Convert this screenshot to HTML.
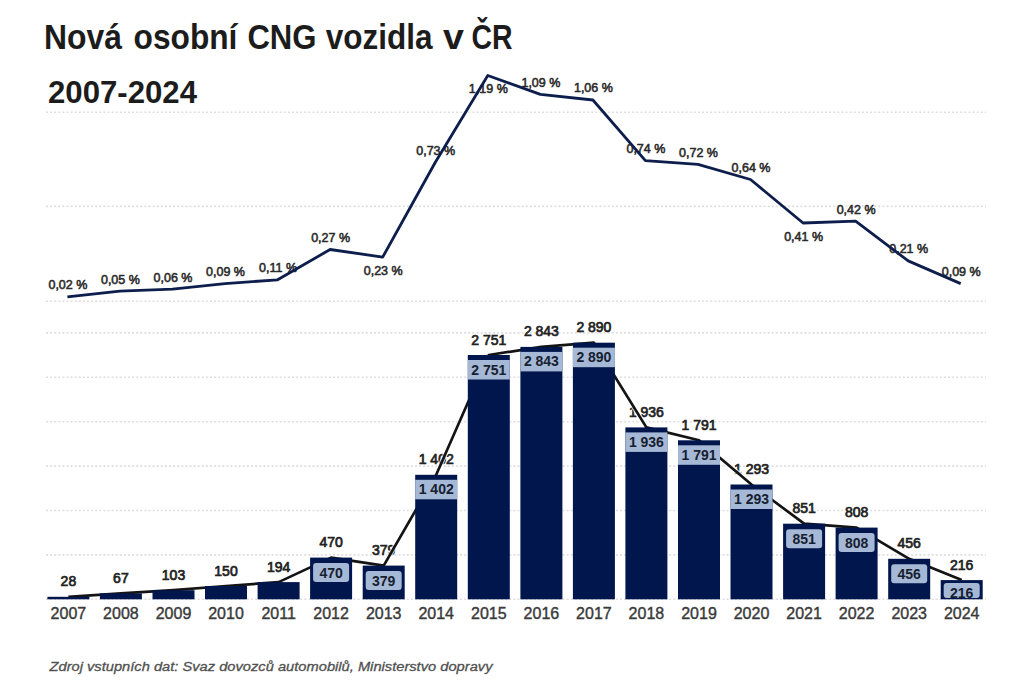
<!DOCTYPE html>
<html><head><meta charset="utf-8"><style>
html,body{margin:0;padding:0;background:#fff;width:1024px;height:683px;overflow:hidden}
svg{display:block}
text{font-family:"Liberation Sans",sans-serif}
.inl{font-size:14px;font-weight:bold;fill:#162030}
.val{font-size:14px;font-weight:normal;fill:#222222;stroke:#222222;stroke-width:0.7px}
.ttl{font-size:35px;font-weight:bold;fill:#1c1c1c}
.yr{font-size:16px;fill:#3a3a3a;stroke:#3a3a3a;stroke-width:0.4px}
.pct{font-size:12.5px;font-weight:normal;fill:#2a2a2a;stroke:#2a2a2a;stroke-width:0.55px}
</style></head><body>
<svg width="1024" height="683" viewBox="0 0 1024 683">
<rect width="1024" height="683" fill="#ffffff"/>
<line x1="46" y1="301.2" x2="986" y2="301.2" stroke="#dedede" stroke-width="1.6" stroke-dasharray="2 2.1"/>
<line x1="46" y1="206.4" x2="986" y2="206.4" stroke="#dedede" stroke-width="1.6" stroke-dasharray="2 2.1"/>
<line x1="46" y1="112.2" x2="986" y2="112.2" stroke="#dedede" stroke-width="1.6" stroke-dasharray="2 2.1"/>
<line x1="46" y1="599.3" x2="986" y2="599.3" stroke="#dedede" stroke-width="1.6" stroke-dasharray="2 2.1"/>
<line x1="46" y1="554.9" x2="986" y2="554.9" stroke="#dedede" stroke-width="1.6" stroke-dasharray="2 2.1"/>
<line x1="46" y1="510.5" x2="986" y2="510.5" stroke="#dedede" stroke-width="1.6" stroke-dasharray="2 2.1"/>
<line x1="46" y1="466.1" x2="986" y2="466.1" stroke="#dedede" stroke-width="1.6" stroke-dasharray="2 2.1"/>
<line x1="46" y1="421.7" x2="986" y2="421.7" stroke="#dedede" stroke-width="1.6" stroke-dasharray="2 2.1"/>
<line x1="46" y1="377.3" x2="986" y2="377.3" stroke="#dedede" stroke-width="1.6" stroke-dasharray="2 2.1"/>
<line x1="46" y1="332.9" x2="986" y2="332.9" stroke="#dedede" stroke-width="1.6" stroke-dasharray="2 2.1"/>
<text x="43.9" y="48.7" class="ttl" textLength="78.0" lengthAdjust="spacingAndGlyphs">Nová</text><text x="133.6" y="48.7" class="ttl" textLength="103.8" lengthAdjust="spacingAndGlyphs">osobní</text><text x="247.4" y="48.7" class="ttl" textLength="69.1" lengthAdjust="spacingAndGlyphs">CNG</text><text x="325.8" y="48.7" class="ttl" textLength="106.8" lengthAdjust="spacingAndGlyphs">vozidla</text><text x="443.0" y="48.7" class="ttl" textLength="20.9" lengthAdjust="spacingAndGlyphs">v</text><text x="471.5" y="48.7" class="ttl" textLength="41.1" lengthAdjust="spacingAndGlyphs">ČR</text>
<text x="48" y="103.4" font-family="Liberation Sans" font-weight="bold" font-size="30.5" textLength="149" lengthAdjust="spacingAndGlyphs" fill="#1c1c1c">2007-2024</text>
<text x="68.4" y="586.3" text-anchor="middle" class="val">28</text>
<text x="120.9" y="582.9" text-anchor="middle" class="val">67</text>
<text x="173.5" y="579.7" text-anchor="middle" class="val">103</text>
<text x="226.0" y="575.5" text-anchor="middle" class="val">150</text>
<text x="278.6" y="571.6" text-anchor="middle" class="val">194</text>
<text x="331.1" y="547.1" text-anchor="middle" class="val">470</text>
<text x="383.7" y="555.1" text-anchor="middle" class="val">379</text>
<text x="436.2" y="464.3" text-anchor="middle" class="val">1 402</text>
<text x="488.8" y="344.5" text-anchor="middle" class="val">2 751</text>
<text x="541.4" y="336.4" text-anchor="middle" class="val">2 843</text>
<text x="593.9" y="332.2" text-anchor="middle" class="val">2 890</text>
<text x="646.4" y="416.9" text-anchor="middle" class="val">1 936</text>
<text x="699.0" y="429.8" text-anchor="middle" class="val">1 791</text>
<text x="751.5" y="474.0" text-anchor="middle" class="val">1 293</text>
<text x="804.1" y="513.2" text-anchor="middle" class="val">851</text>
<text x="856.6" y="517.1" text-anchor="middle" class="val">808</text>
<text x="909.2" y="548.3" text-anchor="middle" class="val">456</text>
<text x="961.7" y="569.6" text-anchor="middle" class="val">216</text>
<polyline points="68.4,596.8 120.9,593.4 173.5,590.2 226.0,586.0 278.6,582.1 331.1,557.6 383.7,565.6 436.2,474.8 488.8,355.0 541.4,346.9 593.9,342.7 646.4,427.4 699.0,440.3 751.5,484.5 804.1,523.7 856.6,527.6 909.2,558.8 961.7,580.1" fill="none" stroke="#ffffff" stroke-opacity="0.7" stroke-width="5" stroke-linejoin="round"/>
<polyline points="68.4,596.8 120.9,593.4 173.5,590.2 226.0,586.0 278.6,582.1 331.1,557.6 383.7,565.6 436.2,474.8 488.8,355.0 541.4,346.9 593.9,342.7 646.4,427.4 699.0,440.3 751.5,484.5 804.1,523.7 856.6,527.6 909.2,558.8 961.7,580.1" fill="none" stroke="#141414" stroke-width="2.7" stroke-linejoin="round"/>
<rect x="47.4" y="596.8" width="42.0" height="2.5" fill="#01164c"/>
<rect x="99.9" y="593.4" width="42.0" height="5.9" fill="#01164c"/>
<rect x="152.5" y="590.2" width="42.0" height="9.1" fill="#01164c"/>
<rect x="205.0" y="586.0" width="42.0" height="13.3" fill="#01164c"/>
<rect x="257.6" y="582.1" width="42.0" height="17.2" fill="#01164c"/>
<rect x="310.1" y="557.6" width="42.0" height="41.7" fill="#01164c"/>
<rect x="313.1" y="563.1" width="36.0" height="19" rx="3" fill="#a5b8d5"/>
<text x="331.1" y="577.6" text-anchor="middle" class="inl">470</text>
<rect x="362.7" y="565.6" width="42.0" height="33.7" fill="#01164c"/>
<rect x="365.7" y="571.1" width="36.0" height="19" rx="3" fill="#a5b8d5"/>
<text x="383.7" y="585.6" text-anchor="middle" class="inl">379</text>
<rect x="415.2" y="474.8" width="42.0" height="124.5" fill="#01164c"/>
<rect x="415.2" y="479.8" width="42.0" height="19.5" fill="#a5b8d5"/>
<text x="436.2" y="494.3" text-anchor="middle" class="inl">1 402</text>
<rect x="467.8" y="355.0" width="42.0" height="244.3" fill="#01164c"/>
<rect x="467.8" y="360.0" width="42.0" height="19.5" fill="#a5b8d5"/>
<text x="488.8" y="374.5" text-anchor="middle" class="inl">2 751</text>
<rect x="520.4" y="346.9" width="42.0" height="252.4" fill="#01164c"/>
<rect x="520.4" y="351.9" width="42.0" height="19.5" fill="#a5b8d5"/>
<text x="541.4" y="366.4" text-anchor="middle" class="inl">2 843</text>
<rect x="572.9" y="342.7" width="42.0" height="256.6" fill="#01164c"/>
<rect x="572.9" y="347.7" width="42.0" height="19.5" fill="#a5b8d5"/>
<text x="593.9" y="362.2" text-anchor="middle" class="inl">2 890</text>
<rect x="625.4" y="427.4" width="42.0" height="171.9" fill="#01164c"/>
<rect x="625.4" y="432.4" width="42.0" height="19.5" fill="#a5b8d5"/>
<text x="646.4" y="446.9" text-anchor="middle" class="inl">1 936</text>
<rect x="678.0" y="440.3" width="42.0" height="159.0" fill="#01164c"/>
<rect x="678.0" y="445.3" width="42.0" height="19.5" fill="#a5b8d5"/>
<text x="699.0" y="459.8" text-anchor="middle" class="inl">1 791</text>
<rect x="730.5" y="484.5" width="42.0" height="114.8" fill="#01164c"/>
<rect x="730.5" y="489.5" width="42.0" height="19.5" fill="#a5b8d5"/>
<text x="751.5" y="504.0" text-anchor="middle" class="inl">1 293</text>
<rect x="783.1" y="523.7" width="42.0" height="75.6" fill="#01164c"/>
<rect x="786.1" y="529.2" width="36.0" height="19" rx="3" fill="#a5b8d5"/>
<text x="804.1" y="543.7" text-anchor="middle" class="inl">851</text>
<rect x="835.6" y="527.6" width="42.0" height="71.7" fill="#01164c"/>
<rect x="838.6" y="533.1" width="36.0" height="19" rx="3" fill="#a5b8d5"/>
<text x="856.6" y="547.6" text-anchor="middle" class="inl">808</text>
<rect x="888.2" y="558.8" width="42.0" height="40.5" fill="#01164c"/>
<rect x="891.2" y="564.3" width="36.0" height="19" rx="3" fill="#a5b8d5"/>
<text x="909.2" y="578.8" text-anchor="middle" class="inl">456</text>
<rect x="940.7" y="580.1" width="42.0" height="19.2" fill="#01164c"/>
<rect x="943.7" y="583.1" width="36.0" height="14.9" rx="3" fill="#a5b8d5"/>
<text x="961.7" y="597.5" text-anchor="middle" class="inl">216</text>
<text x="68.4" y="618.6" text-anchor="middle" class="yr">2007</text>
<text x="120.9" y="618.6" text-anchor="middle" class="yr">2008</text>
<text x="173.5" y="618.6" text-anchor="middle" class="yr">2009</text>
<text x="226.0" y="618.6" text-anchor="middle" class="yr">2010</text>
<text x="278.6" y="618.6" text-anchor="middle" class="yr">2011</text>
<text x="331.1" y="618.6" text-anchor="middle" class="yr">2012</text>
<text x="383.7" y="618.6" text-anchor="middle" class="yr">2013</text>
<text x="436.2" y="618.6" text-anchor="middle" class="yr">2014</text>
<text x="488.8" y="618.6" text-anchor="middle" class="yr">2015</text>
<text x="541.4" y="618.6" text-anchor="middle" class="yr">2016</text>
<text x="593.9" y="618.6" text-anchor="middle" class="yr">2017</text>
<text x="646.4" y="618.6" text-anchor="middle" class="yr">2018</text>
<text x="699.0" y="618.6" text-anchor="middle" class="yr">2019</text>
<text x="751.5" y="618.6" text-anchor="middle" class="yr">2020</text>
<text x="804.1" y="618.6" text-anchor="middle" class="yr">2021</text>
<text x="856.6" y="618.6" text-anchor="middle" class="yr">2022</text>
<text x="909.2" y="618.6" text-anchor="middle" class="yr">2023</text>
<text x="961.7" y="618.6" text-anchor="middle" class="yr">2024</text>
<text x="67.9" y="289.2" text-anchor="middle" class="pct">0,02 %</text>
<text x="120.4" y="283.5" text-anchor="middle" class="pct">0,05 %</text>
<text x="173.0" y="281.6" text-anchor="middle" class="pct">0,06 %</text>
<text x="225.5" y="276.0" text-anchor="middle" class="pct">0,09 %</text>
<text x="278.1" y="272.2" text-anchor="middle" class="pct">0,11 %</text>
<text x="330.6" y="241.9" text-anchor="middle" class="pct">0,27 %</text>
<text x="383.2" y="274.6" text-anchor="middle" class="pct">0,23 %</text>
<text x="435.7" y="154.9" text-anchor="middle" class="pct">0,73 %</text>
<text x="488.3" y="93.0" text-anchor="middle" class="pct">1,19 %</text>
<text x="540.9" y="86.8" text-anchor="middle" class="pct">1,09 %</text>
<text x="593.4" y="92.4" text-anchor="middle" class="pct">1,06 %</text>
<text x="645.9" y="153.0" text-anchor="middle" class="pct">0,74 %</text>
<text x="698.5" y="156.8" text-anchor="middle" class="pct">0,72 %</text>
<text x="751.0" y="171.9" text-anchor="middle" class="pct">0,64 %</text>
<text x="803.6" y="240.5" text-anchor="middle" class="pct">0,41 %</text>
<text x="856.1" y="213.5" text-anchor="middle" class="pct">0,42 %</text>
<text x="908.7" y="253.3" text-anchor="middle" class="pct">0,21 %</text>
<text x="961.2" y="276.0" text-anchor="middle" class="pct">0,09 %</text>
<polyline points="67.4,296.8 119.9,291.1 172.5,289.2 225.0,283.6 277.6,279.8 330.1,249.5 382.7,257.1 435.2,162.5 487.8,75.5 540.4,94.4 592.9,100.0 645.4,160.6 698.0,164.4 750.5,179.5 803.1,223.0 855.6,221.1 908.2,260.9 960.7,283.6" fill="none" stroke="#0d1e4c" stroke-width="2.8" stroke-linejoin="round"/>
<text x="49.5" y="671" font-family="Liberation Sans" font-style="italic" font-size="13.3" textLength="443" lengthAdjust="spacingAndGlyphs" fill="#505050" stroke="#505050" stroke-width="0.3">Zdroj vstupních dat: Svaz dovozců automobilů, Ministerstvo dopravy</text>
</svg>
</body></html>
